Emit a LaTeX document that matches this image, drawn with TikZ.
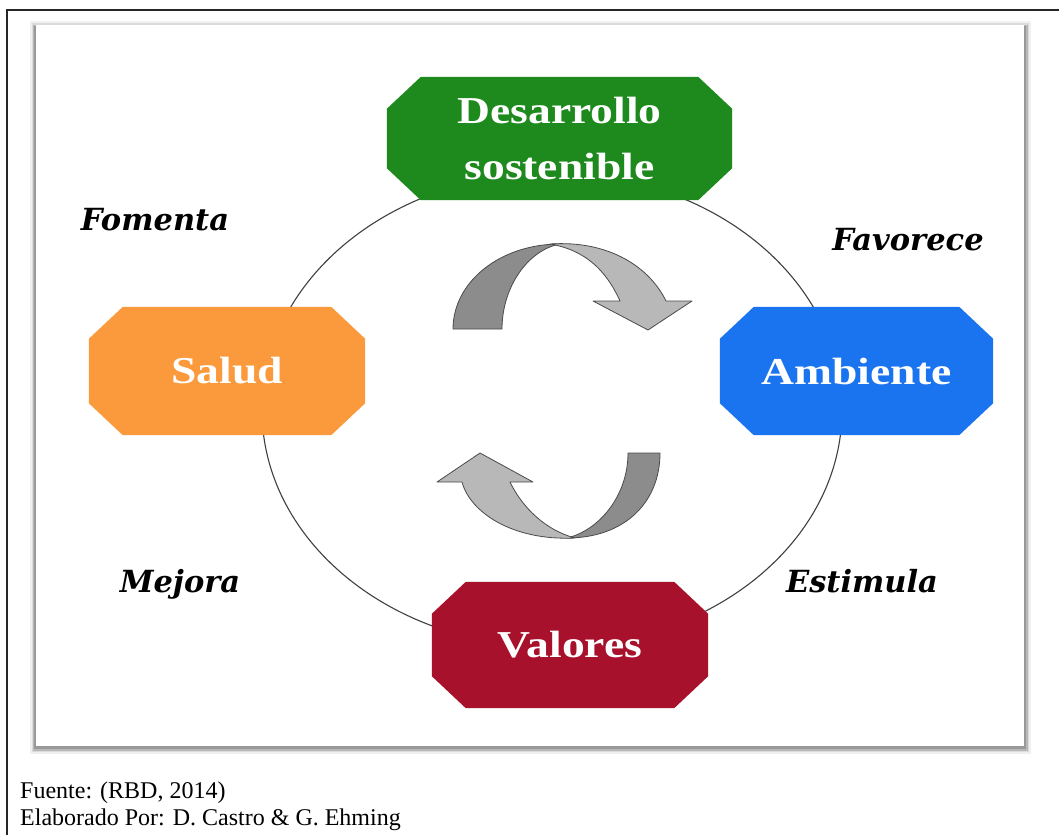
\documentclass[tikz,border=0pt]{standalone}
\usepackage{fontspec}
\setmainfont{Liberation Serif}
\newfontfamily\lblfont{DejaVu Serif}
\usetikzlibrary{shapes.geometric}
\pgfdeclarelayer{back}
\pgfdeclarelayer{fillayer}
\pgfsetlayers{back,fillayer,main}
\definecolor{cgreen}{HTML}{1E8A1E}
\definecolor{corange}{HTML}{FB9A3C}
\definecolor{cblue}{HTML}{1A74F0}
\definecolor{cred}{HTML}{A8112B}
\definecolor{adark}{HTML}{8C8C8C}
\definecolor{alight}{HTML}{B8B8B8}
\definecolor{aline}{HTML}{4A4A4A}
\newcommand{\sx}[1]{\scalebox{1.2}[1]{#1}}
\newcommand{\octfill}[2]{%
  \begin{pgfonlayer}{fillayer}
  \fill[#2] ([xshift=34]#1.north west) -- ([xshift=-34]#1.north east)
    -- ([yshift=-32]#1.north east) -- ([yshift=32]#1.south east)
    -- ([xshift=-34]#1.south east) -- ([xshift=34]#1.south west)
    -- ([yshift=32]#1.south west) -- ([yshift=-32]#1.north west) -- cycle;
  \end{pgfonlayer}}
\begin{document}
\begin{tikzpicture}[x=1pt,y=-1pt,
  boxnode/.style={shape=rectangle, inner sep=0pt, text=white,
    font=\bfseries\fontsize{38}{55}\selectfont, align=center},
  lbl/.style={font=\lblfont\bfseries\itshape\fontsize{30.5}{34}\selectfont, anchor=base, inner sep=0pt},
  foot/.style={font=\fontsize{24}{28}\selectfont, anchor=base west, inner sep=0pt},
  arrdark/.style={fill=adark, draw=aline, line width=0.8pt, line join=round},
  arrlight/.style={fill=alight, draw=aline, line width=0.8pt, line join=round},
  cyc/.style={draw=black!75, line width=1.1pt, shape=ellipse, inner sep=0pt}]
\useasboundingbox (0,0) rectangle (1059,835);
% outer frame
\draw[line width=1.4pt, black!85] (7,835) -- (7,10) -- (1059,10);
% panel with shadow
\begin{pgfonlayer}{back}
\fill[black!6] (30,21) rectangle (1031,754);
\fill[black!14] (32,23) rectangle (1029,752);
\fill[black!28] (33,25) rectangle (1028,751);
\fill[black!40] (34,26) rectangle (1026,749);
\fill[white] (36,25) rectangle (1024,746);
\node[cyc, minimum width=580pt, minimum height=474pt] (ring) at (552,410) {};
\end{pgfonlayer}
% boxes
\node[boxnode, minimum width=345pt, minimum height=123pt] (des) at (559.5,138.5)
  {\sx{Desarrollo}\\\sx{sostenible}};
\octfill{des}{cgreen}
\node[boxnode, minimum width=276pt, minimum height=128pt] (sal) at (227,371) {\sx{Salud}};
\octfill{sal}{corange}
\node[boxnode, minimum width=273pt, minimum height=128pt] (amb) at (856.5,371) {\sx{Ambiente}};
\octfill{amb}{cblue}
\node[boxnode, minimum width=276pt, minimum height=126pt] (val) at (570,645) {\sx{Valores}};
\octfill{val}{cred}
% labels
\node[lbl] (fom) at (155,230) {Fomenta};
\node[lbl] (fav) at (908,250) {Favorece};
\node[lbl] (mej) at (180,592) {Mejora};
\node[lbl] (est) at (862,592) {Estimula};
% upper curved arrow
\draw[arrdark] (453,329) .. controls (453,282) and (500,244) .. (560,244)
  .. controls (528,250) and (502,287) .. (502,329) -- cycle;
\draw[arrlight] (550,244) .. controls (610,240) and (650,268) .. (666,301)
  -- (692,301) -- (648,330) -- (593,301) -- (620,301)
  .. controls (606,270) and (585,250) .. (550,244) -- cycle;
% lower curved arrow
\draw[arrdark] (660,453) .. controls (660,502) and (625,538) .. (567,538)
  .. controls (600,530) and (628,495) .. (628,453) -- cycle;
\draw[arrlight] (575,538) .. controls (512,541) and (470,512) .. (462,482)
  -- (437,482) -- (480,453) -- (533,482) -- (510,482)
  .. controls (522,507) and (545,530) .. (575,538) -- cycle;
% footer
\node[foot] (src) at (20,798) {Fuente: (RBD, 2014)};
\node[foot] (auth) at (20,825) {Elaborado Por: D. Castro \& G. Ehming};
\end{tikzpicture}
\end{document}
